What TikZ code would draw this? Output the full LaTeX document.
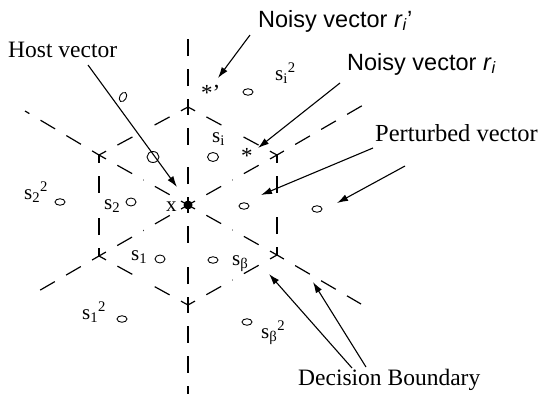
\documentclass[tikz,border=0pt]{standalone}
\usepackage{fontspec}
\setmainfont{Liberation Serif}
\newfontfamily\sansf{Liberation Sans}
\usetikzlibrary{arrows.meta,shapes.geometric,calc}
\newcommand\seg[2]{%
  \draw[bnd] (#1) -- ($(#1)!.5!(#2)$);
  \draw[bnd] (#2) -- ($(#2)!.5!(#1)$);}
\begin{document}
\begin{tikzpicture}[x=1pt,y=-1pt,
  bnd/.style={line width=1.2pt, dash pattern=on 17pt off 13pt, dash phase=9pt},
  ptr/.style={line width=1.1pt, -{Latex[length=11pt,width=7pt]}},
  pnt/.style={draw, line width=0.9pt, ellipse, inner sep=0pt, minimum width=10pt, minimum height=6.5pt},
  lab/.style={inner sep=0pt, font=\fontsize{23.5}{26}\selectfont},
  slab/.style={inner sep=0pt, anchor=base west, font=\fontsize{21}{23}\selectfont},
  sans/.style={inner sep=0pt, font=\sansf\fontsize{23.5}{26}\selectfont}]
\useasboundingbox (0,0) rectangle (549,394);
% lattice geometry
\coordinate (C) at (188,205);
\coordinate (Vt) at (188,107);
\coordinate (Vb) at (188,305);
\coordinate (Vul) at (99,155);
\coordinate (Vur) at (277,155);
\coordinate (Vll) at (99,256);
\coordinate (Vlr) at (277,255);
\coordinate (Et) at (188,28);
\coordinate (Eb) at (188,394);
\coordinate (Eul) at (25,111);
\coordinate (Eur) at (365,104);
\coordinate (Ell) at (30,296);
\coordinate (Elr) at (361,304);
% spokes
\seg{C}{Vt}\seg{C}{Vb}\seg{C}{Vul}\seg{C}{Vur}\seg{C}{Vll}\seg{C}{Vlr}
% hexagon
\seg{Vt}{Vur}\seg{Vur}{Vlr}\seg{Vlr}{Vb}\seg{Vb}{Vll}\seg{Vll}{Vul}\seg{Vul}{Vt}
% extensions
\draw[bnd] (Vt) -- (Et);
\draw[bnd] (Vb) -- (Eb);
\draw[bnd] (Vul) -- (Eul);
\draw[bnd] (Vur) -- (Eur);
\draw[bnd] (Vll) -- (Ell);
\draw[bnd] (Vlr) -- (Elr);
% host vector dot
\node[circle, fill, inner sep=0pt, minimum size=9pt] (x) at (C) {};
\node[lab, anchor=base west, font=\fontsize{21}{23}\selectfont] (xl) at (166,211) {x};
% lattice points
\node[pnt, rotate=60] (p1) at (123,97) {};
\node[pnt] (p2) at (248,92) {};
\node[pnt, minimum width=12pt, minimum height=11pt] (p3) at (153,157) {};
\node[pnt, minimum width=11pt, minimum height=9pt] (p4) at (213,157) {};
\node[pnt] (p5) at (244,206) {};
\node[pnt] (p6) at (317,209) {};
\node[pnt, minimum width=10pt, minimum height=8pt] (p7) at (131,202) {};
\node[pnt] (p8) at (60,202) {};
\node[pnt, minimum width=10pt, minimum height=8pt] (p9) at (160,259) {};
\node[pnt] (p10) at (213,260) {};
\node[pnt] (p11) at (122,319) {};
\node[pnt] (p12) at (247,322) {};
% stars
\node[slab, font=\fontsize{23}{25}\selectfont] (st1) at (201,100) {*’};
\node[slab, font=\fontsize{23}{25}\selectfont] (st2) at (241,163) {*};
% region labels
\node[slab] (s22) at (24,199) {s\textsubscript{2}\textsuperscript{2}};
\node[slab] (s2) at (104,209) {s\textsubscript{2}};
\node[slab] (si) at (212,142) {s\textsubscript{i}};
\node[slab] (si2) at (275,80) {s\textsubscript{i}\textsuperscript{2}};
\node[slab] (s1) at (131,260) {s\textsubscript{1}};
\node[slab] (s12) at (82,319) {s\textsubscript{1}\textsuperscript{2}};
\node[slab] (sb) at (232,265) {s\textsubscript{β}};
\node[slab] (sb2) at (261,338) {s\textsubscript{β}\textsuperscript{2}};
% captions
\node[lab, anchor=west] (host) at (8,50) {Host vector};
\node[sans, anchor=west] (nri2) at (258,21) {Noisy vector \textit{r}\textsubscript{\textit{i}}’};
\node[sans, anchor=west] (nri) at (347,64) {Noisy vector \textit{r}\textsubscript{\textit{i}}};
\node[lab, anchor=west, font=\fontsize{24.5}{27}\selectfont] (pert) at (375,133) {Perturbed vector};
\node[lab, anchor=west] (dec) at (298,380) {Decision Boundary};
% pointer anchors
\coordinate (hostS) at (88,65);
\coordinate (hostT) at (177,187);
\coordinate (nri2S) at (250,35);
\coordinate (nri2T) at (218,78);
\coordinate (nriS) at (340,83);
\coordinate (nriT) at (258,148);
\coordinate (pS1) at (373,148);
\coordinate (pT1) at (261,195);
\coordinate (pS2) at (405,166);
\coordinate (pT2) at (337,203);
\coordinate (dS1) at (352,368);
\coordinate (dT1) at (269,274);
\coordinate (dS2) at (366,367);
\coordinate (dT2) at (313,282);
\draw[ptr] (hostS) -- (hostT);
\draw[ptr] (nri2S) -- (nri2T);
\draw[ptr] (nriS) -- (nriT);
\draw[ptr] (pS1) -- (pT1);
\draw[ptr] (pS2) -- (pT2);
\draw[ptr] (dS1) -- (dT1);
\draw[ptr] (dS2) -- (dT2);
\end{tikzpicture}
\end{document}
